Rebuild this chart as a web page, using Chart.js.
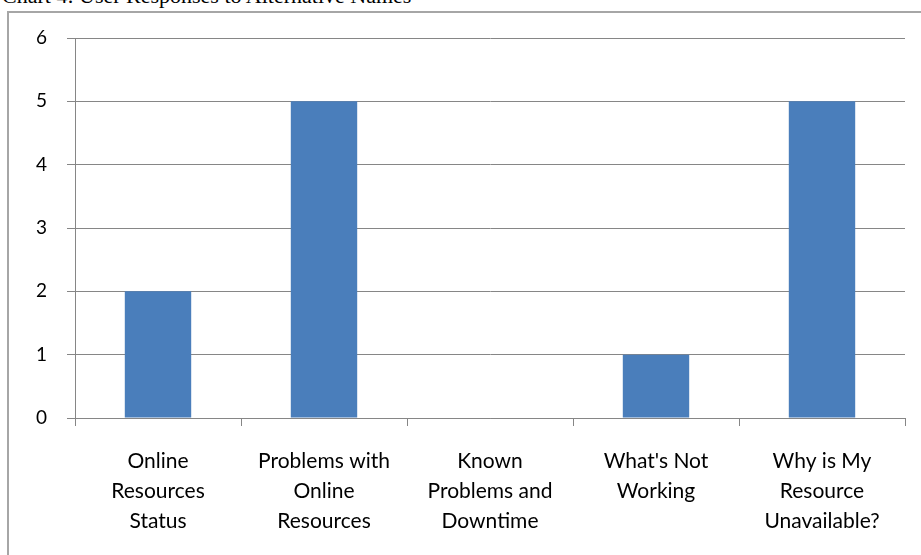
<!DOCTYPE html>
<html>
<head>
<meta charset="utf-8">
<script src="https://cdn.jsdelivr.net/npm/chart.js@4"></script>
<style>
  body { margin: 0; background: #fff; overflow: hidden; }
  #cap { position: absolute; left: 2px; top: -17px; font: 22px "Liberation Serif", serif; color: #000; white-space: nowrap; }
  #frame { position: absolute; left: 7px; top: 11px; width: 930px; height: 560px; border: 2px solid #a6a6a6; }
  #wrap { position: absolute; left: 0; top: 0; width: 921px; height: 555px; }
</style>
</head>
<body>
<div id="cap">Chart 4: User Responses to Alternative Names</div>
<div id="frame"></div>
<div id="wrap"><canvas id="chart"></canvas></div>
<script>
var categories = [
  ['Online', 'Resources', 'Status'],
  ['Problems with', 'Online', 'Resources'],
  ['Known', 'Problems and', 'Downtime'],
  ["What's Not", 'Working'],
  ['Why is My', 'Resource', 'Unavailable?']
]
var responses = [2, 5, 0, 1, 5]
var yTicks = [0, 1, 2, 3, 4, 5, 6]

var ctx = document.getElementById('chart')
var chart = new Chart(ctx, {
  type: 'bar',
  data: {
    labels: categories,
    datasets: [{
      label: 'Responses',
      data: responses,
      backgroundColor: '#4a7ebb',
      borderWidth: 0,
      categoryPercentage: 0.8,
      barPercentage: 0.5
    }]
  },
  options: {
    responsive: true,
    maintainAspectRatio: false,
    animation: false,
    layout: { padding: { left: 0, right: 16, top: 38, bottom: 0 } },
    plugins: { legend: { display: false }, tooltip: { enabled: false } },
    scales: {
      x: {
        grid: { offset: true, drawOnChartArea: false, color: '#868686', tickLength: 8, lineWidth: 1 },
        border: { color: '#868686', width: 1 },
        ticks: { color: '#000', font: { family: 'Lato', size: 21, lineHeight: 1.43 }, padding: 20, maxRotation: 0, autoSkip: false },
        afterFit: function (s) { s.height = 555 - 418 }
      },
      y: {
        min: 0, max: 6,
        afterBuildTicks: function (s) { s.ticks = yTicks.map(v => ({ value: v })) },
        grid: { color: '#868686', tickLength: 8, lineWidth: 1 },
        border: { color: '#868686', width: 1 },
        ticks: { color: '#000', font: { family: 'Lato', size: 19 }, padding: 20 },
        afterFit: function (s) { s.width = 75 }
      }
    }
  }
})
</script>
</body>
</html>
